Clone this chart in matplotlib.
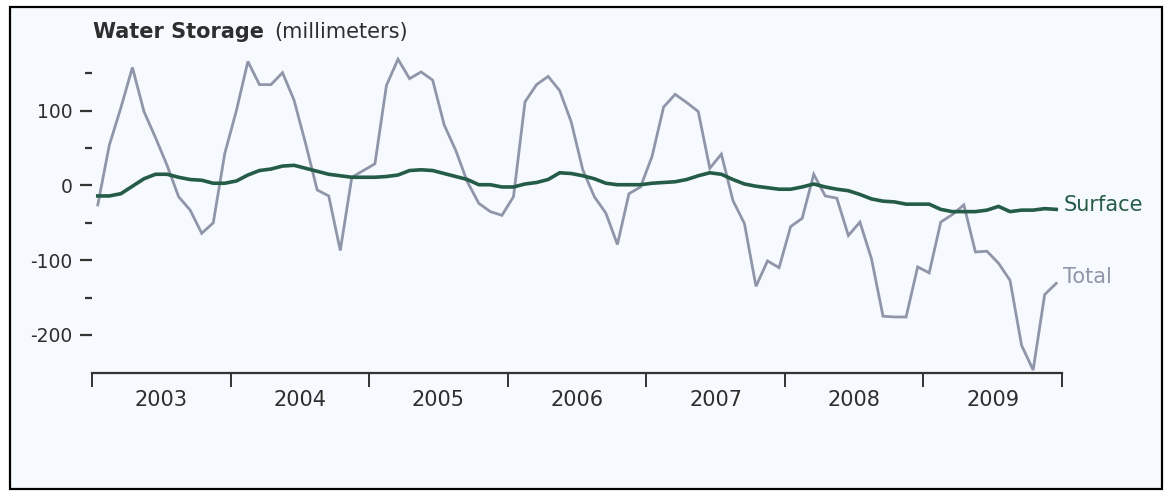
import numpy as np
import matplotlib.pyplot as plt
from matplotlib.patches import Rectangle

plt.rcParams['font.family'] = ['DejaVu Sans']

# Monthly water storage anomalies, Jan 2003 - Dec 2009 (mm)
total = [-26, 54, 104, 158, 99, 64, 27, -15, -33, -64, -50, 43,
         100, 166, 135, 135, 151, 114, 56, -6, -14, -87, 11, 20,
         29, 134, 169, 143, 152, 141, 81, 47, 5, -24, -35, -40,
         -15, 112, 135, 146, 127, 85, 21, -15, -37, -79, -11, -2,
         39, 105, 122, 111, 99, 23, 42, -20, -51, -135, -101, -110,
         -55, -44, 15, -14, -17, -67, -49, -98, -175, -176, -176, -109,
         -117, -49, -39, -26, -89, -88, -104, -127, -214, -247, -146, -131]
surface = [-14, -14, -11, -1, 9, 15, 15, 11, 8, 7, 3, 3,
           6, 14, 20, 22, 26, 27, 23, 19, 15, 13, 11, 11,
           11, 12, 14, 20, 21, 20, 16, 12, 8, 1, 1, -2,
           -2, 2, 4, 8, 17, 16, 13, 9, 3, 1, 1, 1,
           3, 4, 5, 8, 13, 17, 15, 8, 2, -1, -3, -5,
           -5, -2, 2, -2, -5, -7, -12, -18, -21, -22, -25, -25,
           -25, -32, -35, -35, -35, -33, -28, -35, -33, -33, -31, -32]
years = [2003, 2004, 2005, 2006, 2007, 2008, 2009]

# mid-month positions in decimal years
t = years[0] + (np.arange(len(total)) + 0.5) / 12

bg = '#f6f9fd'
gray = '#8f96a9'
green = '#245c48'
ink = '#2e2e2e'

W, H = 1172, 495
fig = plt.figure(figsize=(W / 100, H / 100), dpi=100, facecolor='white')
fig.patches.append(Rectangle((10 / W, 6 / H), 1152 / W, 482 / H,
                             transform=fig.transFigure, facecolor=bg,
                             edgecolor='black', linewidth=1.6, zorder=-1))

ax = fig.add_axes([92 / W, (H - 373) / H, 970 / W, 322 / H])
ax.set_facecolor('none')

ax.plot(t, total, color=gray, lw=2.0, solid_joinstyle='miter')
ax.plot(t, surface, color=green, lw=2.6)

ax.set_xlim(2003, 2010)
ax.set_ylim(-251, 180)

# y axis: dashes only, labelled every 100
ax.set_yticks([-200, -100, 0, 100])
ax.set_yticklabels(['-200', '-100', '0', '100'])
ax.set_yticks([-150, -50, 50, 150], minor=True)
ax.tick_params(axis='y', which='major', length=9, width=1.6, color='#333333',
               labelsize=13.5, labelcolor=ink, pad=5)
ax.tick_params(axis='y', which='minor', length=5, width=1.6, color='#333333')

# x axis: ticks at year boundaries, labels centred on each year
ax.set_xticks(range(years[0], years[-1] + 2))
ax.set_xticklabels([])
ax.set_xticks([y + 0.5 for y in years], minor=True)
ax.set_xticklabels([str(y) for y in years], minor=True)
ax.tick_params(axis='x', which='major', length=10, width=1.4, color='#333333',
               direction='out')
ax.tick_params(axis='x', which='minor', length=0, labelsize=15,
               labelcolor=ink, pad=12)

for side in ['left', 'right', 'top']:
    ax.spines[side].set_visible(False)
ax.spines['bottom'].set_color('#333333')
ax.spines['bottom'].set_linewidth(1.6)

# series labels at line ends
ax.annotate('Surface', xy=(t[-1], surface[-1]), xytext=(7, 4),
            textcoords='offset pixels', color=green, fontsize=15,
            va='center', ha='left', annotation_clip=False)
ax.annotate('Total', xy=(t[-1], total[-1]), xytext=(7, 6),
            textcoords='offset pixels', color=gray, fontsize=15,
            va='center', ha='left', annotation_clip=False)

# title: bold name followed by units
t1 = fig.text(93 / W, 1 - 38 / H, 'Water Storage', fontsize=15,
              fontweight='bold', color=ink, va='baseline', ha='left')
fig.canvas.draw()
bb = t1.get_window_extent()
fig.text((bb.x1 + 10) / W, 1 - 38 / H, '(millimeters)', fontsize=15,
         color=ink, va='baseline', ha='left')

fig.savefig('out.png', dpi=100, facecolor='white')
